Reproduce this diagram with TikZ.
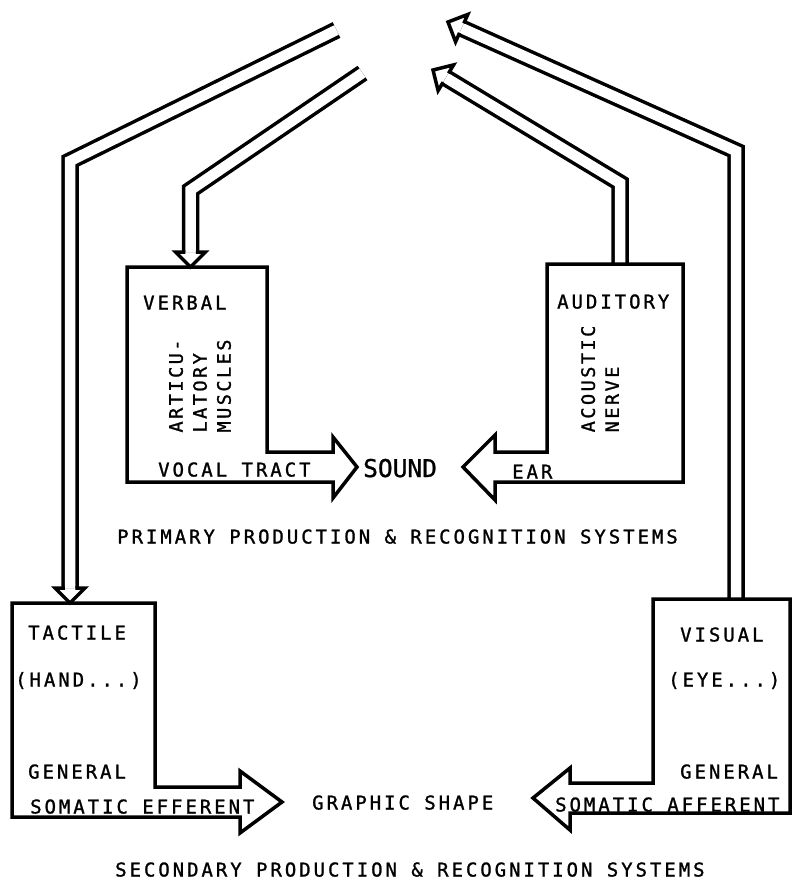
\documentclass[tikz,border=0pt]{standalone}
\usepackage{fontspec}
\usepackage{tikz}
\usetikzlibrary{calc}
\newfontfamily\tw[LetterSpace=15.5, FakeBold=1.2]{DejaVu Sans Mono}
\newfontfamily\twv[LetterSpace=13.5, FakeBold=1.2]{DejaVu Sans Mono}
\newfontfamily\twbig[FakeBold=1]{DejaVu Sans Mono}
\tikzset{
  sysbox/.style={rectangle, inner sep=0pt, outer sep=0pt},
  lbl/.style={inner sep=0pt, anchor=base west, font=\tw\fontsize{19}{24}\selectfont},
  vlbl/.style={inner sep=0pt, rotate=90, align=left, font=\twv\fontsize{18.5}{24}\selectfont},
  blockarrow/.style={draw, line width=3.5pt, line join=miter},
  pipe/.style={draw, line width=3.5pt, double=white, double distance=10.5pt},
  pipehead/.pic={\draw[line width=3.5pt] (-15,5.25) -- (-15,15) -- (0,0) -- (-15,-15) -- (-15,-5.25);},
}

\begin{document}
\begin{tikzpicture}[x=1pt, y=-1pt]
\useasboundingbox (0,0) rectangle (793,887);

% system boxes
\node[sysbox, minimum width=140pt, minimum height=215pt] (verbal) at (197,374.5) {};
\node[sysbox, minimum width=136pt, minimum height=218pt] (auditory) at (615,373) {};
\node[sysbox, minimum width=143pt, minimum height=214pt] (tactile) at (83.5,710) {};
\node[sysbox, minimum width=137pt, minimum height=214pt] (visual) at (721.5,706) {};

\coordinate (vtip) at (357,467);
\coordinate (atip) at (463,467);
\coordinate (ttip) at (282,802);
\coordinate (vitip) at (533,798);

% pipes
\coordinate (vtop) at (362.5,73);
\coordinate (vbend) at (190.5,190);
\coordinate (vin) at (190.5,267);
\coordinate (ttop) at (336.5,30);
\coordinate (tbend) at (70,161);
\coordinate (tin) at (70,603);
\coordinate (abot) at (620,264);
\coordinate (abend) at (620,183);
\coordinate (aout) at (433,70);
\coordinate (vibot) at (736,599);
\coordinate (vibend) at (736,151);
\coordinate (viout) at (448,22);

\draw[pipe] (vtop) -- (vbend) -- ([yshift=15pt]vin);
\draw[pipe] (ttop) -- (tbend) -- ([yshift=15pt]tin);
\draw[pipe] (abot) -- (abend) -- ($(aout)!15pt!(abend)$);
\draw[pipe] (vibot) -- (vibend) -- ($(viout)!15pt!(vibend)$);
\pic[rotate=-90] at (vin) {pipehead};
\pic[rotate=-90] at (tin) {pipehead};
\pic[rotate=148.9] at (aout) {pipehead};
\pic[rotate=155.9] at (viout) {pipehead};

% boxes with block arrows
\draw[blockarrow] (verbal.north west) -- (verbal.north east) -- ++(0,185) -- ++(66,0) -- ++(0,-15) -- (vtip) -- ++(-24,31) -- ++(0,-16) -- (verbal.south west) -- cycle;
\draw[blockarrow] (auditory.north east) -- (auditory.north west) -- ++(0,188) -- ++(-52,0) -- ++(0,-17) -- (atip) -- ++(32,33) -- ++(0,-18) -- (auditory.south east) -- cycle;
\draw[blockarrow] (tactile.north west) -- (tactile.north east) -- ++(0,184) -- ++(85,0) -- ++(0,-16) -- (ttip) -- ++(-42,31) -- ++(0,-16) -- (tactile.south west) -- cycle;
\draw[blockarrow] (visual.north east) -- (visual.north west) -- ++(0,184) -- ++(-83,0) -- ++(0,-15) -- (vitip) -- ++(37,32) -- ++(0,-17) -- (visual.south east) -- cycle;

% labels
\node[lbl] (verballbl) at (143,309.5) {VERBAL};
\node[vlbl] (artlbl) at (200,386) {ARTICU-\\LATORY\\MUSCLES};
\node[lbl] (vocallbl) at (158,476.5) {VOCAL TRACT};
\node[inner sep=0pt, anchor=base west, font=\twbig\fontsize{24.5}{28}\selectfont] (sound) at (363,477) {SOUND};
\node[lbl] (audlbl) at (557,308.5) {AUDITORY};
\node[vlbl] (acolbl) at (600,379) {ACOUSTIC\\NERVE};
\node[lbl] (earlbl) at (512,478.5) {EAR};
\node[lbl] (taclbl) at (28,639.5) {TACTILE};
\node[lbl] (handlbl) at (15,686.5) {(HAND...)};
\node[lbl] (gen1lbl) at (28,778.5) {GENERAL};
\node[lbl] (efflbl) at (30,813.5) {SOMATIC EFFERENT};
\node[lbl] (vislbl) at (680,641.5) {VISUAL};
\node[lbl] (eyelbl) at (668,686.5) {(EYE...)};
\node[lbl] (gen2lbl) at (680,778.5) {GENERAL};
\node[lbl] (afflbl) at (555,811.5) {SOMATIC AFFERENT};
\node[lbl] (graphic) at (312,809.5) {GRAPHIC SHAPE};
\node[lbl] (primary) at (117,543.5) {PRIMARY PRODUCTION \& RECOGNITION SYSTEMS};
\node[lbl] (secondary) at (115,876.5) {SECONDARY PRODUCTION \& RECOGNITION SYSTEMS};
\end{tikzpicture}
\end{document}
